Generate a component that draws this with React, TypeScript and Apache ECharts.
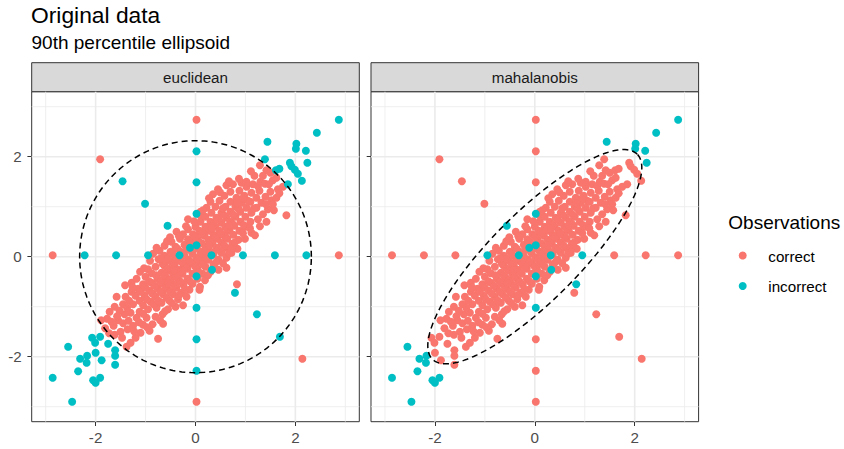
import React, { useEffect, useRef } from 'react';
import * as echarts from 'echarts';

const RED = '#F8766D';
const CYAN = '#00BFC4';
const FONT = '"Liberation Sans", Arial, sans-serif';

const titleText = 'Original data';
const subtitleText = '90th percentile ellipsoid';
const legendTitle = 'Observations';
const facetLabels = ['euclidean', 'mahalanobis'];
const legendLabels = ['correct', 'incorrect'];
const tickValues = [-2, 0, 2];
const minorGridValues = [-3, -1, 1, 3];

// main cloud: classified correctly by both methods
const cloud: number[][] = [
  [-1.81,-1.43],[-1.38,-1.80],[-1.62,-1.56],
  [-1.77,-1.24],[-1.50,-1.50],[-1.30,-1.72],[-1.64,-1.38],
  [-1.72,-1.10],[-1.55,-1.27],[-1.36,-1.45],[-1.20,-1.62],[-1.45,-1.33],
  [-1.62,-1.00],[-1.25,-1.38],[-1.10,-1.52],[-1.42,-1.15],[-1.34,-1.28],[-1.52,-1.08],
  [-1.58,-0.80],[-1.45,-0.95],[-1.05,-1.36],[-0.92,-1.48],[-0.75,-1.64],[-1.30,-1.12],[-1.18,-1.22],
  [-1.40,-0.80],[-1.25,-0.95],[-1.12,-1.10],[-0.98,-1.22],[-0.86,-1.35],[-1.33,-0.88],[-1.05,-1.14],
  [-1.41,-0.57],[-1.28,-0.70],[-1.12,-0.88],[-0.95,-1.05],[-0.80,-1.20],[-0.65,-1.34],[-1.05,-0.97],[-1.20,-0.78],
  [-1.28,-0.52],[-1.15,-0.64],[-1.02,-0.78],[-0.90,-0.90],[-0.78,-1.02],[-0.66,-1.15],[-0.98,-0.85],[-1.10,-0.70],[-0.84,-0.95],
  [-1.18,-0.44],[-1.05,-0.55],[-0.92,-0.68],[-0.80,-0.80],[-0.68,-0.92],[-0.55,-1.05],[-0.86,-0.74],[-0.74,-0.88],[-1.00,-0.62],
  [-1.11,-0.30],[-1.00,-0.40],[-0.88,-0.52],[-0.76,-0.64],[-0.65,-0.75],[-0.52,-0.88],[-0.40,-1.00],[-0.82,-0.58],[-0.70,-0.70],[-0.58,-0.82],
  [-0.95,-0.25],[-0.88,-0.33],[-0.76,-0.44],[-0.66,-0.54],[-0.56,-0.64],[-0.45,-0.75],[-0.35,-0.85],[-0.25,-0.97],[-0.70,-0.50],[-0.60,-0.60],[-0.50,-0.70],
  [-0.91,-0.08],[-0.80,-0.20],[-0.68,-0.32],[-0.58,-0.42],[-0.48,-0.52],[-0.38,-0.62],[-0.28,-0.72],[-0.18,-0.80],[-0.62,-0.38],[-0.52,-0.47],[-0.42,-0.58],
  [-0.85,0.06],[-0.74,-0.05],[-0.62,-0.18],[-0.52,-0.28],[-0.44,-0.36],[-0.34,-0.46],[-0.24,-0.56],[-0.12,-0.66],[-0.56,-0.24],[-0.40,-0.40],[-0.30,-0.50],[-0.66,-0.14],
  [-0.72,0.12],[-0.62,0.02],[-0.52,-0.08],[-0.42,-0.18],[-0.34,-0.26],[-0.26,-0.34],[-0.16,-0.44],[-0.06,-0.54],[0.08,-0.66],[-0.46,-0.14],[-0.30,-0.30],[-0.56,-0.04],
  [-0.62,0.22],[-0.50,0.10],[-0.40,0.00],[-0.32,-0.08],[-0.24,-0.16],[-0.16,-0.24],[-0.06,-0.34],[0.04,-0.44],[0.09,-0.60],[-0.36,-0.04],[-0.20,-0.20],[-0.46,0.06],
  [-0.48,0.30],[-0.40,0.20],[-0.30,0.10],[-0.22,0.02],[-0.14,-0.06],[-0.06,-0.14],[0.04,-0.24],[0.14,-0.34],[-0.26,0.06],[-0.10,-0.10],[0.00,-0.20],[-0.36,0.16],
  [-0.38,0.50],[-0.31,0.36],[-0.22,0.24],[-0.14,0.14],[-0.06,0.06],[0.02,-0.02],[0.10,-0.10],[0.20,-0.20],[0.30,-0.30],[-0.18,0.18],[0.06,-0.06],[0.15,-0.15],
  [-0.25,0.45],[-0.15,0.35],[-0.05,0.25],[0.03,0.17],[0.10,0.10],[0.18,0.02],[0.26,-0.06],[0.36,-0.16],[0.46,-0.26],[-0.10,0.30],[0.14,0.06],[0.22,-0.02],
  [-0.15,0.55],[-0.05,0.45],[0.05,0.35],[0.13,0.27],[0.20,0.20],[0.28,0.12],[0.36,0.04],[0.46,-0.06],[0.62,-0.22],[0.00,0.40],[0.24,0.16],[0.32,0.08],
  [-0.15,0.75],[0.00,0.60],[0.10,0.50],[0.18,0.42],[0.26,0.34],[0.34,0.26],[0.42,0.18],[0.52,0.08],[0.62,-0.02],[0.08,0.52],[0.30,0.30],[0.46,0.14],
  [0.09,0.83],[0.10,0.70],[0.20,0.60],[0.28,0.52],[0.36,0.44],[0.44,0.36],[0.52,0.28],[0.62,0.18],[0.72,0.08],[0.40,0.40],[0.58,0.22],[0.24,0.56],
  [0.10,0.90],[0.20,0.80],[0.30,0.70],[0.40,0.60],[0.48,0.52],[0.56,0.44],[0.64,0.36],[0.74,0.26],[0.84,0.16],[0.36,0.64],[0.60,0.40],
  [0.22,0.98],[0.32,0.88],[0.42,0.78],[0.52,0.68],[0.60,0.60],[0.68,0.52],[0.76,0.44],[0.86,0.34],[0.72,0.16],[0.46,0.74],[0.64,0.56],
  [0.30,1.10],[0.40,1.00],[0.52,0.88],[0.62,0.78],[0.70,0.70],[0.78,0.62],[0.88,0.52],[0.99,0.36],[0.56,0.84],[0.74,0.66],
  [0.35,1.25],[0.48,1.12],[0.60,1.00],[0.70,0.90],[0.80,0.80],[0.90,0.70],[1.00,0.60],[1.12,0.48],[0.76,0.84],
  [0.45,1.35],[0.58,1.22],[0.70,1.10],[0.80,1.00],[0.90,0.90],[1.00,0.80],[1.10,0.70],[1.19,0.43],[0.86,0.96],
  [0.62,1.43],[0.70,1.30],[0.82,1.18],[0.92,1.08],[1.02,0.98],[1.12,0.88],[1.25,0.75],[1.05,1.12],
  [0.75,1.45],[0.88,1.32],[0.98,1.22],[1.10,1.10],[1.22,0.98],[1.35,0.85],[1.42,0.70],
  [0.92,1.48],[1.02,1.40],[1.12,1.28],[1.22,1.18],[1.32,1.08],[1.45,0.95],[1.52,1.13],
  [1.02,1.50],[1.15,1.45],[1.28,1.32],[1.40,1.20],[1.55,1.05],[1.82,0.83],
  [1.18,1.62],[1.30,1.50],[1.39,1.46],[1.50,1.30],[1.62,1.18],
  [1.29,1.83],[1.42,1.73],[1.55,1.53],[1.65,1.35],
  [1.50,1.68],[1.62,1.58],[1.75,1.40],
];

// further cloud points read between the denser rows
const cloudExtra: number[][] = [
  [-1.68,-1.30],[-1.47,-1.62],[-1.23,-1.49],[-1.57,-1.19],[-1.37,-1.02],[-1.13,-1.31],[-0.97,-1.41],
  [-1.26,-0.61],[-0.71,-1.27],[-0.61,-1.09],[-0.93,-0.49],[-1.03,-0.23],[-0.79,-0.37],[-0.47,-0.93],
  [-0.33,-0.77],[-0.69,-0.03],[-0.55,-0.53],[-0.21,-0.65],[-0.78,0.18],[-0.57,0.31],[-0.43,-0.27],
  [-0.11,-0.49],[0.19,-0.47],[-0.51,0.39],[-0.27,-0.11],[0.07,-0.31],[-0.33,0.41],[-0.07,0.13],
  [0.25,-0.37],[-0.19,0.61],[0.13,0.47],[0.41,-0.11],[0.55,-0.13],[-0.03,0.71],[0.27,0.23],
  [0.67,0.07],[0.15,0.93],[0.33,0.57],[0.51,0.47],[0.79,0.29],[0.27,1.17],[0.55,0.97],
  [0.67,0.63],[0.95,0.47],[0.49,1.29],[0.83,1.07],[0.97,0.63],[1.09,0.57],[0.67,1.51],
  [0.95,1.17],[1.17,0.97],[1.29,0.61],[0.87,1.56],[1.25,1.41],[1.41,1.05],[1.57,0.93],
  [1.11,1.71],[1.47,1.45],[1.68,1.27],[1.35,1.62],[-1.73,-1.53],[-1.89,-1.27],
];

// outliers classified correctly by both methods
const bothCorrect: number[][] = [
  [0.02,2.74],[0.02,-2.90],[-2.86,0.03],[2.87,0.03],[-1.91,1.95],[2.14,-2.04],
];

// misclassified by both methods
const bothIncorrect: number[][] = [
  [0.02,0.86],[0.02,0.23],[0.02,-0.39],[0.02,-1.02],
  [-0.95,0.03],[-0.32,0.03],[0.32,0.03],[0.95,0.03],
  [-0.56,0.62],[-0.11,0.18],[0.33,-0.26],
  [2.87,2.74],[2.43,2.48],[1.44,2.30],[2.02,2.26],[2.01,2.16],[2.21,2.12],[2.24,1.88],
  [-2.55,-1.80],[-2.31,-2.04],[-2.17,-1.98],[-2.18,-2.12],[-2.35,-2.29],[-2.86,-2.42],
  [-2.05,-2.47],[-2.00,-2.52],[-1.91,-2.42],[-2.47,-2.90],
];

// misclassified only by the euclidean rule
const euclideanOnlyIncorrect: number[][] = [
  [0.02,2.11],[0.02,1.49],[0.02,-1.65],[0.02,-2.28],
  [-2.22,0.03],[-1.59,0.03],[1.59,0.03],[2.22,0.03],
  [-1.46,1.51],[-1.01,1.06],[0.79,-0.72],[1.23,-1.15],[1.69,-1.60],
  [1.39,1.95],[1.89,1.88],[1.92,1.81],[1.99,1.74],[2.05,1.66],[2.13,1.52],[1.85,1.45],[1.61,1.73],[1.68,1.76],
  [-2.07,-1.62],[-1.91,-1.60],[-2.01,-1.72],[-1.75,-1.74],[-1.61,-1.87],[-2.00,-1.92],[-1.88,-2.07],[-1.61,-1.98],[-1.61,-2.16],
];

// misclassified only by the mahalanobis rule
const mahalanobisOnlyIncorrect: number[][] = [
  [0.83,-0.55],
];

// ellipse parameters: [centerX, centerY, semiAxisA, semiAxisB, angleDeg]
const euclideanEllipse = [0, 0, 2.32, 2.32, 0];
const mahalanobisEllipse = [0, 0, 2.9, 0.88, 45];

const PANEL_LEFTS = [31.7, 371];
const PANEL_W = 327.6;
const PANEL_TOP = 91.7;
const PANEL_H = 330;
const STRIP_H = 29;

export default function App() {
  const ref = useRef<HTMLDivElement>(null);

  useEffect(() => {
    document.body.style.margin = '0';
    if (!ref.current) return;
    const chart = echarts.init(ref.current, undefined, { renderer: 'svg' });

    const gridRows: number[][] = [];
    tickValues.forEach((v) => { gridRows.push([v, 0, 0]); gridRows.push([v, 0, 1]); });
    minorGridValues.forEach((v) => { gridRows.push([v, 1, 0]); gridRows.push([v, 1, 1]); });

    const gridSeries = (idx: number) => ({
      type: 'custom',
      xAxisIndex: idx,
      yAxisIndex: idx,
      z: 1,
      silent: true,
      data: gridRows,
      renderItem: (params: any, api: any) => {
        const v = api.value(0);
        const minor = api.value(1);
        const dir = api.value(2);
        const cs = params.coordSys;
        let shape;
        if (dir === 0) {
          const x = api.coord([v, 0])[0];
          shape = { x1: x, y1: cs.y, x2: x, y2: cs.y + cs.height };
        } else {
          const y = api.coord([0, v])[1];
          shape = { x1: cs.x, y1: y, x2: cs.x + cs.width, y2: y };
        }
        return {
          type: 'line',
          shape,
          style: { stroke: '#ebebeb', lineWidth: minor ? 0.8 : 1.6 },
        };
      },
    });

    const ellipseSeries = (idx: number, params5: number[]) => ({
      type: 'custom',
      xAxisIndex: idx,
      yAxisIndex: idx,
      z: 5,
      silent: true,
      data: [params5],
      renderItem: (_p: any, api: any) => {
        const cx = api.value(0);
        const cy = api.value(1);
        const a = api.value(2);
        const b = api.value(3);
        const ang = (api.value(4) * Math.PI) / 180;
        const pts: number[][] = [];
        const n = 160;
        for (let i = 0; i <= n; i++) {
          const t = (i / n) * Math.PI * 2;
          const ex = a * Math.cos(t);
          const ey = b * Math.sin(t);
          pts.push(
            api.coord([
              cx + ex * Math.cos(ang) - ey * Math.sin(ang),
              cy + ex * Math.sin(ang) + ey * Math.cos(ang),
            ])
          );
        }
        return {
          type: 'polyline',
          shape: { points: pts },
          style: { stroke: '#000000', lineWidth: 1.5, lineDash: [6, 4], fill: null },
        };
      },
    });

    const scatter = (idx: number, name: string, color: string, data: number[][]) => ({
      type: 'scatter',
      name,
      xAxisIndex: idx,
      yAxisIndex: idx,
      z: 3,
      symbol: 'circle',
      symbolSize: 8,
      itemStyle: { color, opacity: 1 },
      emphasis: { disabled: true },
      data,
    });

    const axisCommon = {
      type: 'value',
      splitLine: { show: false },
      axisLine: { show: false, onZero: false },
      axisTick: {
        show: true,
        customValues: tickValues,
        length: 4.3,
        lineStyle: { color: '#333333', width: 1 },
      },
    };

    const xAxes = [0, 1].map((i) => ({
      ...axisCommon,
      gridIndex: i,
      min: -3.28,
      max: 3.28,
      axisLabel: {
        customValues: tickValues,
        color: '#4d4d4d',
        fontSize: 15.2,
        fontFamily: FONT,
        margin: 8,
        formatter: (v: number) => String(v),
      },
    }));
    const yAxes = [0, 1].map((i) => ({
      ...axisCommon,
      gridIndex: i,
      min: -3.3,
      max: 3.3,
      axisLabel: {
        show: i === 0,
        customValues: tickValues,
        color: '#4d4d4d',
        fontSize: 15.2,
        fontFamily: FONT,
        margin: 10,
        formatter: (v: number) => String(v),
      },
    }));

    const graphics: any[] = [
      {
        type: 'text',
        x: 31,
        y: 14.7,
        style: { text: titleText, font: `22.8px ${FONT}`, fill: '#000000', verticalAlign: 'middle' },
      },
      {
        type: 'text',
        x: 31.5,
        y: 42.7,
        style: { text: subtitleText, font: `19px ${FONT}`, fill: '#000000', verticalAlign: 'middle' },
      },
    ];
    facetLabels.forEach((lab, i) => {
      graphics.push({
        type: 'rect',
        shape: { x: PANEL_LEFTS[i], y: PANEL_TOP - STRIP_H, width: PANEL_W, height: STRIP_H },
        style: { fill: '#d9d9d9', stroke: '#333333', lineWidth: 1 },
      });
      graphics.push({
        type: 'text',
        x: PANEL_LEFTS[i] + PANEL_W / 2,
        y: PANEL_TOP - STRIP_H / 2,
        style: {
          text: lab,
          font: `15.2px ${FONT}`,
          fill: '#1a1a1a',
          align: 'center',
          verticalAlign: 'middle',
        },
      });
    });
    graphics.push({
      type: 'text',
      x: 728.3,
      y: 222.2,
      style: { text: legendTitle, font: `19px ${FONT}`, fill: '#000000', verticalAlign: 'middle' },
    });
    const legendColors = [RED, CYAN];
    const legendYs = [255.5, 286];
    legendLabels.forEach((lab, i) => {
      graphics.push({
        type: 'circle',
        shape: { cx: 742.7, cy: legendYs[i], r: 4 },
        style: { fill: legendColors[i] },
      });
      graphics.push({
        type: 'text',
        x: 768.3,
        y: legendYs[i] + 0.9,
        style: { text: lab, font: `15.2px ${FONT}`, fill: '#000000', verticalAlign: 'middle' },
      });
    });

    const leftCorrect = [...cloud, ...cloudExtra, ...bothCorrect, ...mahalanobisOnlyIncorrect];
    const leftIncorrect = [...bothIncorrect, ...euclideanOnlyIncorrect];
    const rightCorrect = [...cloud, ...cloudExtra, ...bothCorrect, ...euclideanOnlyIncorrect];
    const rightIncorrect = [...bothIncorrect, ...mahalanobisOnlyIncorrect];

    chart.setOption({
      animation: false,
      backgroundColor: '#ffffff',
      textStyle: { fontFamily: FONT },
      grid: PANEL_LEFTS.map((l) => ({
        left: l,
        top: PANEL_TOP,
        width: PANEL_W,
        height: PANEL_H,
        show: true,
        backgroundColor: '#ffffff',
        borderColor: '#333333',
        borderWidth: 1,
        containLabel: false,
      })),
      xAxis: xAxes,
      yAxis: yAxes,
      graphic: graphics,
      series: [
        gridSeries(0),
        gridSeries(1),
        scatter(0, legendLabels[0], RED, leftCorrect),
        scatter(0, legendLabels[1], CYAN, leftIncorrect),
        scatter(1, legendLabels[0], RED, rightCorrect),
        scatter(1, legendLabels[1], CYAN, rightIncorrect),
        ellipseSeries(0, euclideanEllipse),
        ellipseSeries(1, mahalanobisEllipse),
      ],
    });

    return () => chart.dispose();
  }, []);

  return <div ref={ref} style={{ width: 844, height: 449 }} />;
}
